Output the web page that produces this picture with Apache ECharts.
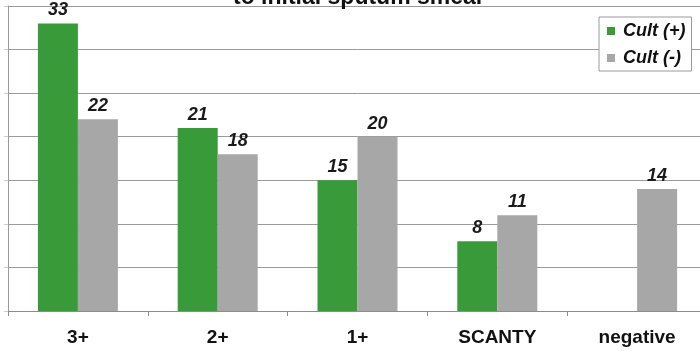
<!DOCTYPE html>
<html>
<head>
<meta charset="utf-8">
<script src="https://cdn.jsdelivr.net/npm/echarts@6/dist/echarts.min.js"></script>
<style>
  html, body { margin: 0; padding: 0; background: #fff; overflow: hidden; width: 700px; height: 351px; }
  /* the plot runs slightly past the right edge of the page, so the canvas is wider than the view */
  #chart { width: 712px; height: 351px; }
</style>
</head>
<body>
<div id="chart"></div>
<script>
// Smear grade categories and culture result counts
const categories = ['3+', '2+', '1+', 'SCANTY', 'negative'];
const cultPositive = [33, 21, 15, 8, null];
const cultNegative = [22, 18, 20, 11, 14];
const seriesNames = ['Cult (+)', 'Cult (-)'];

const FONT = '"Liberation Sans", Arial, sans-serif';
const GREEN = '#389a38';
const GRAY = '#a7a7a7';

const labelStyle = {
  show: true,
  position: 'top',
  distance: 4,
  fontFamily: FONT,
  fontSize: 18,
  fontWeight: 'bold',
  fontStyle: 'italic',
  color: '#1a1a1a'
};

const chart = echarts.init(document.getElementById('chart'), null, { renderer: 'canvas' });
chart.setOption({
  animation: false,
  backgroundColor: '#ffffff',
  title: {
    text: 'to initial sputum smear',
    left: 233,
    top: -14,
    padding: 0,
    textStyle: { fontFamily: FONT, fontSize: 23, fontWeight: 'bold', color: '#111' }
  },
  grid: { left: 8, top: 6, bottom: 40, width: 699, containLabel: false },
  legend: {
    orient: 'vertical',
    left: 599,
    top: 17,
    padding: [5, 6, 4, 8],
    itemGap: 9,
    itemWidth: 8,
    itemHeight: 8,
    icon: 'rect',
    backgroundColor: '#fff',
    borderColor: '#9a9a9a',
    borderWidth: 1,
    textStyle: {
      fontFamily: FONT, fontSize: 18, fontWeight: 'bold', fontStyle: 'italic', color: '#111',
      padding: [0, 0, 0, 3]
    },
    data: seriesNames
  },
  xAxis: {
    type: 'category',
    data: categories,
    boundaryGap: true,
    axisLine: { show: true, lineStyle: { color: '#8c8c8c', width: 1 } },
    axisTick: { show: true, length: 5, lineStyle: { color: '#8c8c8c' } },
    axisLabel: { margin: 17, fontFamily: FONT, fontSize: 19, fontWeight: 'bold', color: '#111' }
  },
  yAxis: {
    type: 'value',
    min: 0,
    max: 35,
    interval: 5,
    axisLine: { show: true, lineStyle: { color: '#9a9a9a' } },
    axisTick: { show: true, length: 4, lineStyle: { color: '#cccccc' } },
    axisLabel: { show: false },
    splitLine: { show: true, lineStyle: { color: '#9a9a9a', width: 1 } }
  },
  series: [
    {
      name: seriesNames[0],
      type: 'bar',
      data: cultPositive,
      barWidth: 40,
      barGap: '0%',
      itemStyle: { color: GREEN },
      label: labelStyle
    },
    {
      name: seriesNames[1],
      type: 'bar',
      data: cultNegative,
      barWidth: 40,
      barGap: '0%',
      itemStyle: { color: GRAY },
      label: labelStyle
    }
  ]
});
</script>
</body>
</html>
